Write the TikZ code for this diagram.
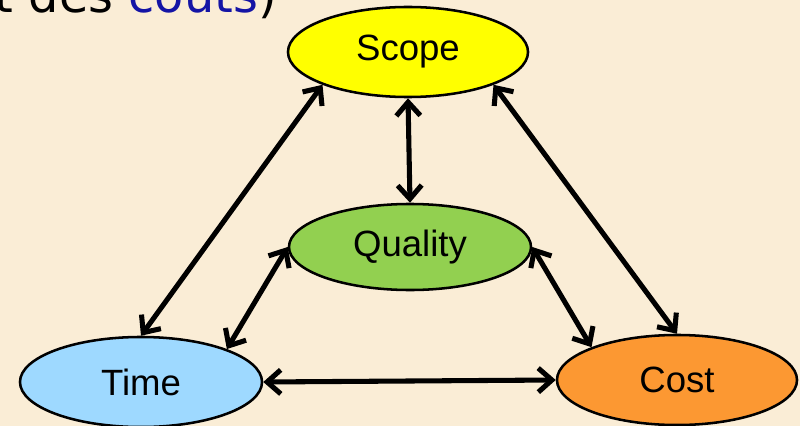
\documentclass[tikz,border=0pt]{standalone}
\usepackage{fontspec}
\setmainfont{Liberation Sans}
\newfontfamily\slidefont{DejaVu Sans}
\usetikzlibrary{shapes.geometric,arrows.meta}
\definecolor{parchment}{RGB}{250,237,214}
\definecolor{scopeyellow}{RGB}{255,255,0}
\definecolor{qualitygreen}{RGB}{146,208,80}
\definecolor{timeblue}{RGB}{158,217,255}
\definecolor{costorange}{RGB}{252,152,50}
\definecolor{slideblue}{RGB}{20,20,165}

\begin{document}
\begin{tikzpicture}[x=0.025cm,y=-0.025cm,
    topic/.style ={ellipse, draw, line width=1.8pt, inner sep=0pt, minimum width=6cm, minimum height=2.25cm, font=\fontsize{26}{30}\selectfont},
    link/.style ={{Straight Barb[length=3.4mm,width=6mm]}-{Straight Barb[length=3.4mm,width=6mm]}, line width=3.6pt, line cap=round}]
   \useasboundingbox (0,0) rectangle (800,426);
   \clip (0,0) rectangle (800,426);
   \fill[parchment] (0,0) rectangle (800,426);
   \node[anchor=base east, inner sep=0pt, font=\slidefont\fontsize{34}{38}\selectfont] (title) at (277,13) {et des \textcolor{slideblue}{coûts})};
   \node[topic, fill=scopeyellow] (scope) at (408,52) {Scope};
   \node[topic, fill=qualitygreen, minimum width=6.05cm, minimum height=2.15cm] (quality) at (410,247) {Quality};
   \node[topic, fill=timeblue, minimum width=6.05cm] (time) at (141,382) {Time};
   \node[topic, fill=costorange] (cost) at (677,380) {Cost};
   \draw[link] (scope.201) to (time.north);
   \draw[link] (scope.south) to (quality.north);
   \draw[link] (scope.339) to (cost.north);
   \draw[link] (quality.west) to (time.21);
   \draw[link] (quality.east) to (cost.159);
   \draw[link] (time.east) to (cost.west);
 \end{tikzpicture}
\end{document}
